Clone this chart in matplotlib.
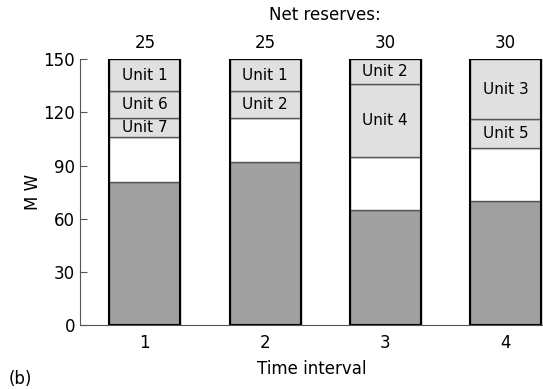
import matplotlib.pyplot as plt
import numpy as np

intervals = [1, 2, 3, 4]
load = [81, 92, 65, 70]
net_reserves = [25, 25, 30, 30]
# committed units stacked above load + reserve (bottom to top)
unit_names = [['Unit 7', 'Unit 6', 'Unit 1'],
              ['Unit 2', 'Unit 1'],
              ['Unit 4', 'Unit 2'],
              ['Unit 5', 'Unit 3']]
unit_tops = [[117, 132, 150],
             [132, 150],
             [136, 150],
             [116, 150]]

dark = '#a0a0a0'
light = '#e0e0e0'
width = 0.59

fig = plt.figure(figsize=(5.43, 3.89), dpi=100)
ax = fig.add_axes([0.147, 0.164, 0.853, 0.684])

for i, x in enumerate(intervals):
    ax.bar(x, load[i], width, color=dark, edgecolor='#555555', lw=1)
    ax.bar(x, net_reserves[i], width, bottom=load[i], color='white', edgecolor='#555555', lw=1)
    bottom = load[i] + net_reserves[i]
    for name, top in zip(unit_names[i], unit_tops[i]):
        ax.bar(x, top - bottom, width, bottom=bottom, color=light, edgecolor='#555555', lw=1)
        ax.text(x, (top + bottom) / 2, name, ha='center', va='center', fontsize=11)
        bottom = top
    ax.bar(x, unit_tops[i][-1], width, fill=False, edgecolor='black', lw=1.5)
    ax.text(x, 154, str(net_reserves[i]), ha='center', va='bottom', fontsize=12)

ax.text(2.5, 170, 'Net reserves:', ha='center', va='bottom', fontsize=12)

ax.set_xlim(0.459, 4.312)
ax.set_ylim(0, 150)
ax.set_yticks([0, 30, 60, 90, 120, 150])
ax.set_xticks(intervals)
ax.tick_params(axis='y', direction='in', length=5, labelsize=12, color='#555555')
ax.tick_params(axis='x', length=0, labelsize=12, pad=6)
ax.spines['top'].set_visible(False)
ax.spines['right'].set_visible(False)
ax.spines['left'].set_color('#555555')
ax.spines['bottom'].set_color('#555555')
ax.set_ylabel('M W', fontsize=12, labelpad=1)
ax.set_xlabel('Time interval', fontsize=12, labelpad=6)
fig.text(0.015, 0.012, '(b)', fontsize=12)

fig.savefig('out.png', dpi=100)
